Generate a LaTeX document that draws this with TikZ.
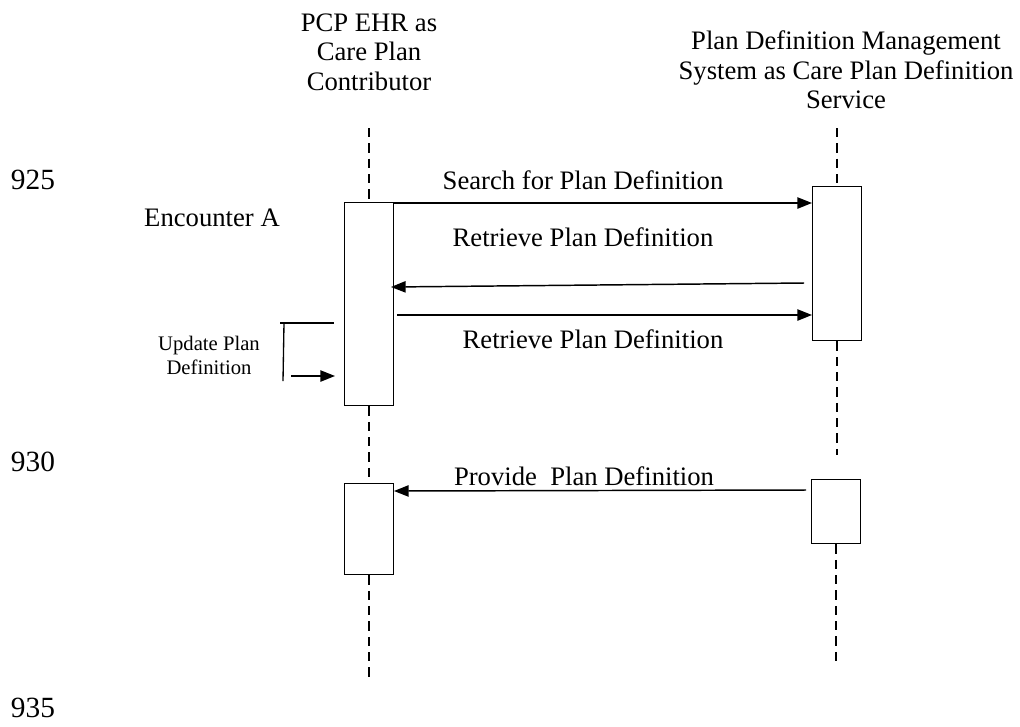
\documentclass[tikz,border=0pt]{standalone}
\usepackage{fontspec}
\setmainfont{Liberation Serif}
\usetikzlibrary{arrows.meta}
\begin{document}
\begin{tikzpicture}[x=0.75pt,y=-0.75pt,
  actbox/.style={draw,line width=1.1pt,fill=white,minimum width=36.5pt,inner sep=0pt,anchor=north},
  life/.style={line width=1pt,dash pattern=on 7pt off 4.5pt},
  msg/.style={line width=1.1pt,-{Triangle[length=11pt,width=8.5pt]}},
  lbl/.style={font=\fontsize{20pt}{22pt}\selectfont,inner sep=0pt},
  head/.style={lbl,align=center},
  tick/.style={font=\fontsize{22pt}{24pt}\selectfont,inner sep=0pt},
  note/.style={font=\fontsize{15.5pt}{18pt}\selectfont,inner sep=0pt,align=center}]
\useasboundingbox (0,0) rectangle (1020,726);

% participants
\node[head] (pcp) at (369,52) {PCP EHR as\\Care Plan\\Contributor};
\node[head] (pdm) at (846,70) {Plan Definition Management\\System as Care Plan Definition\\Service};

% time marks
\node[tick] (t925) at (33,180) {925};
\node[tick] (t930) at (33,462) {930};
\node[tick] (t935) at (33,708) {935};

\node[lbl] (enc) at (212,218) {Encounter A};

% activation bars
\node[actbox,minimum height=152.25pt] (b1) at (369,202) {};
\node[actbox,minimum height=115.5pt] (b2) at (837,186) {};
\node[actbox,minimum height=68.25pt] (b3) at (369,483) {};
\node[actbox,minimum height=48pt] (b4) at (836,479) {};

% lifelines
\coordinate (l1top) at (369,128);
\coordinate (l1bot) at (369,682);
\coordinate (l2top) at (837,128);
\coordinate (l2mid) at (837,455);
\coordinate (l2bot) at (836,665);
\draw[life] (l1top) -- (b1.north);
\draw[life] (b1.south) -- (b3.north);
\draw[life] (b3.south) -- (l1bot);
\draw[life] (l2top) -- (b2.north);
\draw[life] (b2.south) -- (l2mid);
\draw[life] (b4.south) -- (l2bot);

% messages
\coordinate (m1s) at (393,203);
\coordinate (m1e) at (812,203);
\draw[msg] (m1s) -- (m1e);
\node[lbl] (m1l) at (583,180) {Search for Plan Definition};

\coordinate (m2s) at (804,283);
\coordinate (m2e) at (391,287);
\draw[msg] (m2s) -- (m2e);
\node[lbl] (m2l) at (583,237) {Retrieve Plan Definition};

\coordinate (m3s) at (397,315);
\coordinate (m3e) at (812,315);
\draw[msg] (m3s) -- (m3e);
\node[lbl] (m3l) at (593,339) {Retrieve Plan Definition};

\coordinate (m4s) at (806,490);
\coordinate (m4e) at (394,491);
\draw[msg] (m4s) -- (m4e);
\node[lbl] (m4l) at (584,476) {Provide\ \ Plan Definition};

% self update
\node[note] (upd) at (209,355) {Update Plan\\Definition};
\coordinate (u1) at (280,323);
\coordinate (u2) at (334,323);
\coordinate (u3) at (284,323);
\coordinate (u4) at (283,381);
\coordinate (u5) at (291,376);
\coordinate (u6) at (335,376);
\draw[line width=1pt] (u1) -- (u2);
\draw[line width=1pt] (u3) -- (u4);
\draw[msg] (u5) -- (u6);
\end{tikzpicture}
\end{document}
